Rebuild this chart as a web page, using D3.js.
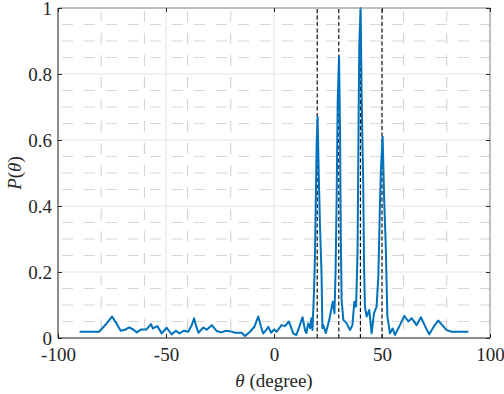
<!DOCTYPE html>
<html>
<head>
<meta charset="utf-8">
<script src="https://cdn.jsdelivr.net/npm/d3@7"></script>
<style>
  body { margin: 0; background: #fff; }
  svg text { font-family: "Times New Roman", "Liberation Serif", Tinos, "DejaVu Serif", "Noto Serif", Times, serif; fill: #262626; }
</style>
</head>
<body>
<svg id="main" width="504" height="394"></svg>
<script>
// spectrum
const theta = [-90, -81, -78, -75, -73, -71, -69, -67, -65, -63.5, -61.5, -59, -57, -56, -54, -52,
  -49.7, -47.4, -45.4, -43.8, -41.7, -39.7, -38, -37, -36, -35, -32.7, -31.2, -28.8, -26.5, -24.5,
  -22, -20, -18, -15, -13.4, -11.1, -9.1, -7.3, -6, -5, -3.4, -2.6, -1.4, 0.1, 1.2, 3.5, 5.1, 6.9,
  8.9, 10.3, 11.5, 13.2, 14.4, 15, 15.8, 16.7, 17.3, 17.8, 18.5, 19, 19.4, 19.8, 20.2, 20.7, 21.3,
  22, 22.4, 22.8, 24, 25.6, 27.2, 28, 28.5, 29, 29.5, 30.1, 30.6, 30.9, 31.3, 32.1, 33.6, 35.2,
  36.3, 37.2, 38, 38.7, 39.2, 39.5, 40.1, 40.6, 41.3, 41.7, 42.1, 42.9, 44.1, 45.2, 46.3, 47.5,
  48.3, 49.1, 49.5, 50.3, 51, 51.7, 52.5, 53.7, 54.9, 56, 58.3, 60.3, 62.2, 63.7, 66, 68, 70,
  71.9, 74, 76, 78, 79.9, 82.3, 90]
const power = [0.019, 0.019, 0.04, 0.065, 0.045, 0.022, 0.025, 0.032, 0.025, 0.017, 0.026, 0.026,
  0.042, 0.029, 0.036, 0.014, 0.031, 0.011, 0.022, 0.014, 0.022, 0.019, 0.04, 0.06, 0.035, 0.016,
  0.032, 0.025, 0.039, 0.021, 0.017, 0.022, 0.02, 0.016, 0.016, 0.006, 0.019, 0.034, 0.065, 0.034,
  0.014, 0.026, 0.034, 0.016, 0.026, 0.019, 0.039, 0.036, 0.05, 0.014, 0.009, 0.03, 0.063, 0.022,
  0.015, 0.044, 0.03, 0.06, 0.024, 0.136, 0.257, 0.44, 0.6, 0.67, 0.5, 0.337, 0.197, 0.03, 0.039,
  0.015, 0.055, 0.11, 0.075, 0.2, 0.42, 0.72, 0.853, 0.62, 0.32, 0.115, 0.055, 0.045, 0.024, 0.039,
  0.11, 0.095, 0.267, 0.69, 0.89, 1.0, 0.72, 0.47, 0.215, 0.094, 0.065, 0.085, 0.014, 0.075, 0.095,
  0.186, 0.42, 0.51, 0.61, 0.42, 0.287, 0.065, 0.014, 0.029, 0.009, 0.039, 0.067, 0.05, 0.06, 0.039,
  0.063, 0.035, 0.011, 0.035, 0.053, 0.038, 0.024, 0.019, 0.019]
const sources = [20, 30, 40, 50]   // true directions (dashed)

const xTicks = [-100, -50, 0, 50, 100]
const yTicks = [0, 0.2, 0.4, 0.6, 0.8, 1]
const xMinor = [-80, -60, -40, -20, 20, 40, 60, 80]
const yMinor = d3.range(1, 20).map(k => k * 0.05).filter(v => Math.abs(v / 0.2 - Math.round(v / 0.2)) > 1e-6)

const mLeft = 58, mRight = 490, mTop = 8, mBottom = 338

let xScale = d3.scaleLinear().domain([-100, 100]).range([mLeft, mRight])
let yScale = d3.scaleLinear().domain([0, 1]).range([mBottom, mTop])

let svg = d3.select("#main")

// grid
let grid = svg.append("g")
grid.selectAll(".xmin").data(xMinor).enter().append("line")
    .attr("x1", d => xScale(d)).attr("x2", d => xScale(d))
    .attr("y1", mTop).attr("y2", mBottom)
    .attr("stroke", "#cfcfcf").attr("stroke-dasharray", "11,11").attr("stroke-dashoffset", 19)
grid.selectAll(".ymin").data(yMinor).enter().append("line")
    .attr("x1", mLeft).attr("x2", mRight)
    .attr("y1", d => yScale(d)).attr("y2", d => yScale(d))
    .attr("stroke", "#d6d6d6").attr("stroke-dasharray", "11,11").attr("stroke-dashoffset", 18)
grid.selectAll(".xmaj").data(xTicks).enter().append("line")
    .attr("x1", d => xScale(d)).attr("x2", d => xScale(d))
    .attr("y1", mTop).attr("y2", mBottom)
    .attr("stroke", "#e3e3e3")
grid.selectAll(".ymaj").data(yTicks).enter().append("line")
    .attr("x1", mLeft).attr("x2", mRight)
    .attr("y1", d => yScale(d)).attr("y2", d => yScale(d))
    .attr("stroke", "#e3e3e3")

// true source directions
svg.selectAll(".src").data(sources).enter().append("line")
    .attr("x1", d => xScale(d)).attr("x2", d => xScale(d))
    .attr("y1", yScale(0)).attr("y2", yScale(1))
    .attr("stroke", "#000").attr("stroke-width", 1.1).attr("stroke-dasharray", "4,2.5")

// spectrum
let line = d3.line().x((d, i) => xScale(theta[i])).y(d => yScale(d))
svg.append("path").datum(power)
    .attr("d", line)
    .attr("fill", "none")
    .attr("stroke", "#0072BD")
    .attr("stroke-width", 2)
    .attr("stroke-linejoin", "round")

// box
svg.append("path")
    .attr("d", `M${mLeft},${mTop}H${mRight}V${mBottom}`)
    .attr("fill", "none").attr("stroke", "#8c8c8c")
svg.append("path")
    .attr("d", `M${mLeft},${mTop}V${mBottom}H${mRight}`)
    .attr("fill", "none").attr("stroke", "#262626")

// ticks, inward like MATLAB
let x_axis = d3.axisBottom(xScale).tickValues(xTicks).tickSize(-4).tickPadding(10).tickFormat(d3.format("d"))
let y_axis = d3.axisLeft(yScale).tickValues(yTicks).tickSize(-4).tickPadding(6).tickFormat(d => d)
let gx = svg.append("g").attr("transform", `translate(0,${mBottom})`).call(x_axis)
let gy = svg.append("g").attr("transform", `translate(${mLeft},0)`).call(y_axis)
svg.append("g").attr("transform", `translate(${mRight},0)`)
    .call(d3.axisRight(yScale).tickValues(yTicks).tickSize(-4).tickFormat(""))
svg.append("g").attr("transform", `translate(0,${mTop})`)
    .call(d3.axisTop(xScale).tickValues(xTicks).tickSize(-4).tickFormat(""))
svg.selectAll(".domain").remove()
svg.selectAll("g").attr("font-family", null)
svg.selectAll(".tick line").attr("stroke", "#262626")
svg.selectAll(".tick text").style("font-size", "19px").attr("fill", "#262626")
gx.selectAll(".tick text").text(d => d < 0 ? "-" + Math.abs(d) : d)

// labels
let xl = svg.append("text")
    .attr("x", xScale(0)).attr("y", 387)
    .attr("text-anchor", "middle")
    .style("font-size", "19px")
xl.append("tspan").style("font-style", "italic").text("θ")
xl.append("tspan").text(" (degree)")

let yl = svg.append("text")
    .attr("transform", `translate(21,${(mTop + mBottom) / 2}) rotate(-90)`)
    .attr("text-anchor", "middle")
    .style("font-size", "19px")
yl.append("tspan").style("font-style", "italic").text("P")
yl.append("tspan").text("(")
yl.append("tspan").style("font-style", "italic").text("θ")
yl.append("tspan").text(")")
</script>
</body>
</html>
